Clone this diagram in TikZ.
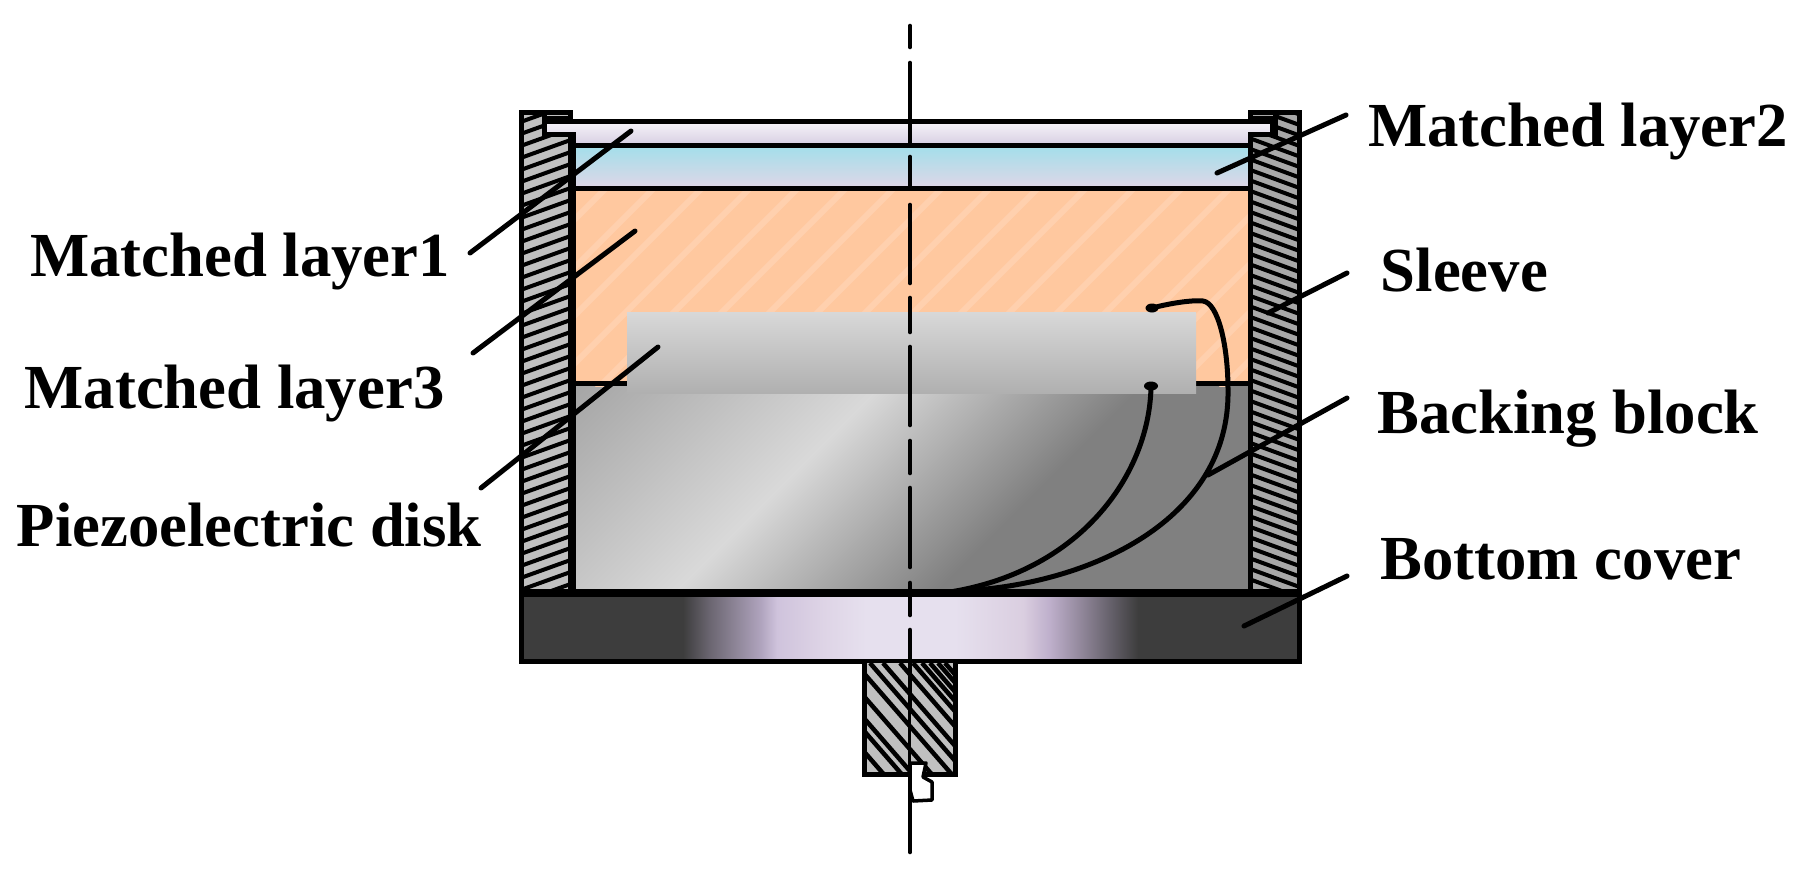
\documentclass[tikz,border=0pt]{standalone}
\usepackage{fontspec}
\setmainfont{Liberation Serif}
\definecolor{layA}{HTML}{F3F0F7}
\definecolor{layB}{HTML}{D9D1E3}
\definecolor{layC}{HTML}{A6DEEA}
\definecolor{layM}{HTML}{BEDAE8}
\definecolor{layD}{HTML}{DCD7E7}
\definecolor{orangeF}{HTML}{FFC89F}
\definecolor{orangeL}{HTML}{FFD0AE}
\definecolor{diskT}{HTML}{D8D8D8}
\definecolor{diskB}{HTML}{B0B0B0}
\definecolor{hatchL}{HTML}{C0C0C0}
\definecolor{hatchR}{HTML}{A8A8A8}
\pgfdeclarehorizontalshading{backingshade}{100bp}{
 color(0bp)=(black!35!white); color(34.55bp)=(black!35!white);
 color(45.3bp)=(black!15!white); color(54.63bp)=(black!50!white);
 color(100bp)=(black!50!white)}
\definecolor{cD}{HTML}{3D3D3D}
\definecolor{c1}{HTML}{6A6570}
\definecolor{c2}{HTML}{B0A4BE}
\definecolor{c3}{HTML}{CFC3DC}
\definecolor{c4}{HTML}{DED4E6}
\definecolor{c5}{HTML}{E6E0EE}
\definecolor{c6}{HTML}{DACEE0}
\definecolor{c7}{HTML}{BFB0CC}
\definecolor{c8}{HTML}{9A8FA4}
\pgfdeclarehorizontalshading{covershade}{100bp}{
 color(0bp)=(cD); color(35.28bp)=(cD); color(36.97bp)=(c1); color(40.33bp)=(c2);
 color(41.36bp)=(c3); color(44.4bp)=(c4); color(47.12bp)=(c5); color(52.88bp)=(c5);
 color(57.28bp)=(c6); color(58.96bp)=(c7); color(60.64bp)=(c8); color(62.71bp)=(c1);
 color(64.72bp)=(cD); color(100bp)=(cD)}
\tikzset{
 lbl/.style={anchor=base west,inner sep=0pt,font=\bfseries\fontsize{62.7}{63}\selectfont,text=black},
 outl/.style={draw=black,line width=5pt},
 leader/.style={draw=black,line width=5pt,line cap=round},
 wire/.style={draw=black,line width=5pt,line cap=round},
 axisline/.style={draw=black,line width=4.6pt,line cap=round}
}
\begin{document}
\begin{tikzpicture}[x=1pt,y=-1pt]
\useasboundingbox (0,0) rectangle (1806,873);
\fill[white] (0,0) rectangle (1806,873);
% backing block
\begin{scope}
\clip (576,386) rectangle (1248,589);
\shade[shading=backingshade,shading angle=-45] (412,-13) rectangle (1412,987);
\end{scope}
% matched layer 3
\begin{scope}
\clip (576,191) rectangle (1248,386);
\fill[orangeF] (576,191) rectangle (1248,386);
\foreach \k in {-8,...,20}
  \draw[orangeL,line width=6pt] ({642+48*\k},200) -- ({642+48*\k+200},0) ({642+48*\k},200) -- ({642+48*\k-200},400);
\end{scope}
\draw[outl] (576,383) -- (1248,383);
% matched layers 1, 2
\shade[top color=layA,bottom color=layB] (547,124) rectangle (1272,143.5);
\shade[top color=layC,middle color=layM,bottom color=layD] (576,148) rectangle (1248,186);
\draw[outl] (572,121.5) -- (1248,121.5);
\draw[outl] (576,145.5) -- (1248,145.5);
\draw[outl] (576,188.5) -- (1248,188.5);
% walls
\begin{scope}
\clip (524,115) -- (542,115) -- (542,137) -- (568,137) -- (568,589) -- (524,589) -- cycle;
\fill[hatchL] (520,110) rectangle (570,595);
\foreach \k in {0,...,44}
  \draw[black,line width=4pt] (515,{112+12*\k}) -- (575,{112+12*\k-21.6});
\end{scope}
\begin{scope}
\clip (1278,115) -- (1297,115) -- (1297,589) -- (1253,589) -- (1253,137) -- (1278,137) -- cycle;
\fill[hatchR] (1250,110) rectangle (1300,595);
\foreach \k in {0,...,50}
  \draw[black,line width=4pt] (1245,{84+10.5*\k}) -- (1305,{84+10.5*\k+22});
\end{scope}
% wall outlines, left
\fill[black] (519,110) rectangle (572.5,115);
\fill[black] (542,115) rectangle (572.5,124);
\fill[black] (542,115) rectangle (547,137);
\fill[black] (542,132) rectangle (576,137);
\fill[black] (519,110) rectangle (524,597);
\fill[black] (568,132) rectangle (576,597);
\fill[hatchL] (547,114.8) rectangle (568,116.2);
% wall outlines, right
\fill[black] (1248,110) rectangle (1302,115);
\fill[black] (1248,115) rectangle (1278,124);
\fill[black] (1270,115) rectangle (1278,137);
\fill[black] (1248,132) rectangle (1278,137);
\fill[black] (1248,132) rectangle (1253,597);
\fill[black] (1297,110) rectangle (1302,597);
\fill[hatchR] (1253,114.8) rectangle (1273,116.2);
% piezo disk
\shade[top color=diskT,bottom color=diskB] (627,312) rectangle (1196,393);
% bottom cover
\shade[shading=covershade] (524,595) rectangle (1297,659);
\fill[black] (519,589) rectangle (1302,597);
\fill[black] (519,659) rectangle (1302,663.5);
\fill[black] (519,589) rectangle (524,663.5);
\fill[black] (1297,589) rectangle (1302,663.5);
% connector
\begin{scope}
\clip (867,663) rectangle (953,772);
\fill[hatchL] (860,660) rectangle (960,780);
\foreach \xs in {787,805,816,835,855,870,883,900,913,922,930,938,945}
  \draw[black,line width=4.5pt] (\xs,663) -- ({\xs+120},{663+138});
\end{scope}
\draw[outl] (864.5,663) -- (864.5,774) -- (955.5,774) -- (955.5,663);
\draw[black,line width=3.5pt,line join=round,fill=white] (910,763) -- (926,763) -- (923,777) -- (932,782) -- (932,800) -- (913,801) -- (910,790) -- cycle;
% leaders
\draw[leader] (631,131) -- (470,253);
\draw[leader] (635,231) -- (473,353);
\draw[leader] (658,347) -- (481,488);
\draw[leader] (1346,115) -- (1217,173);
\draw[leader] (1347,273) -- (1268,313);
\draw[leader] (1347,398) -- (1208,475);
\draw[leader] (1347,576) -- (1244,626);
% wires
\draw[wire] (1152,308) .. controls (1175,302) and (1195,300) .. (1203,301) .. controls (1218,303) and (1228,345) .. (1228,390) .. controls (1230,520) and (1090,585) .. (960,591);
\draw[wire] (1151,386) .. controls (1150,470) and (1085,570) .. (950,592);
\fill[black] (1152,308) ellipse (6.5 and 4.5);
\fill[black] (1151,386) ellipse (7 and 4.5);
% axis
\foreach \a/\b in {26/47,63/142,157/187,205/283,298/332,347/425,441/473,488/567,583/615,630/710,768/852}
  \draw[axisline] (910,\a) -- (910,\b);
\draw[black,line width=3pt] (909.5,710) -- (909.5,770);
% labels
\node[lbl] (ml2) at (1368,146) {Matched layer2};
\node[lbl] (sl) at (1380.5,291) {Sleeve};
\node[lbl] (bb) at (1377,433) {Backing block};
\node[lbl] (bc) at (1380.5,579) {Bottom cover};
\node[lbl] (ml1) at (30,276) {Matched layer1};
\node[lbl] (ml3) at (24.5,408) {Matched layer3};
\node[lbl] (pd) at (16.5,546) {Piezoelectric disk};
\end{tikzpicture}
\end{document}
